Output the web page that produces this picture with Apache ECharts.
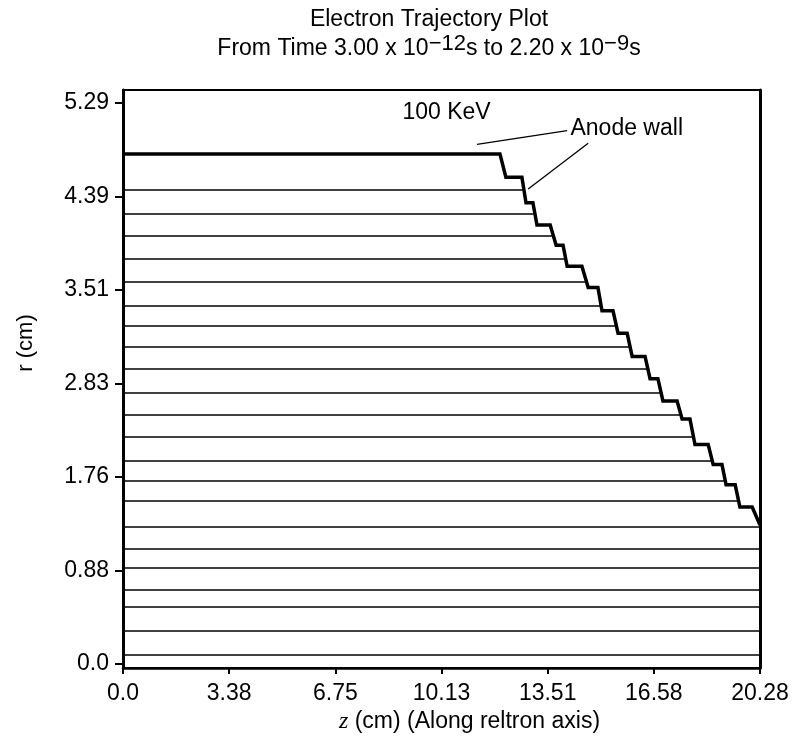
<!DOCTYPE html>
<html>
<head>
<meta charset="utf-8">
<script src="https://cdn.jsdelivr.net/npm/echarts@6/dist/echarts.min.js"></script>
<style>
html, body { margin: 0; background: #fff; }
#chart { width: 800px; height: 752px; }
</style>
</head>
<body>
<div id="chart"></div>
<script>
// tick labels as printed on the plot
const xTickLabels = ['0.0', '3.38', '6.75', '10.13', '13.51', '16.58', '20.28']
const yTickLabels = ['0.0', '0.88', '1.76', '2.83', '3.51', '4.39', '5.29']
const zStep = 3.38
const rStep = 5.29 / 6

// electron trajectories: radius and z where each one hits the wall
const trajR = [4.47, 4.25, 4.04, 3.82, 3.60, 3.38, 3.19, 2.99, 2.78, 2.56, 2.35,
    2.14, 1.92, 1.73, 1.54, 1.29, 1.09, 0.91, 0.70, 0.54, 0.31, 0.09]
const trajEnd = [12.77, 13.12, 13.69, 14.10, 14.74, 15.22, 15.70, 16.14, 16.72, 17.13, 17.73,
    18.15, 18.75, 19.17, 19.61, 20.28, 20.28, 20.28, 20.28, 20.28, 20.28, 20.28]

// anode wall outline
const wallZ = [0, 12.00, 12.19, 12.70, 12.83, 13.05, 13.18, 13.60, 13.79, 14.01, 14.14, 14.61,
    14.81, 15.12, 15.25, 15.60, 15.76, 16.05, 16.21, 16.62, 16.78, 17.03, 17.19, 17.64,
    17.80, 18.05, 18.21, 18.63, 18.79, 19.07, 19.20, 19.49, 19.64, 20.03, 20.28]
const wallR = [4.81, 4.81, 4.59, 4.59, 4.35, 4.35, 4.14, 4.14, 3.95, 3.95, 3.75, 3.75,
    3.55, 3.55, 3.33, 3.33, 3.12, 3.12, 2.90, 2.90, 2.69, 2.69, 2.48, 2.48,
    2.31, 2.31, 2.07, 2.07, 1.88, 1.88, 1.69, 1.69, 1.48, 1.48, 1.31]

// annotations
const noteNames = ['100 KeV', 'Anode wall']
const noteZ = [8.88, 14.23]
const noteR = [5.20, 5.05]
const leaderFrom = [[11.27, 4.90], [14.81, 4.91]]
const leaderTo = [[14.14, 5.03], [12.90, 4.48]]

const xTicks = xTickLabels.map((l, i) => +(i * zStep).toFixed(2))
const yTicks = yTickLabels.map((l, i) => +(i * rStep).toFixed(4))

const font = 'Liberation Sans'
const myChart = echarts.init(document.getElementById('chart'))

myChart.setOption({
    animation: false,
    backgroundColor: '#fff',
    title: {
        text: 'Electron Trajectory Plot\n{n|From Time 3.00 x 10}{s|\u221212}{n|s to 2.20 x 10}{s|\u22129}{n|s}',
        left: 429,
        top: 6,
        padding: 0,
        textAlign: 'center',
        textStyle: {
            fontFamily: font,
            fontSize: 23,
            fontWeight: 'normal',
            color: '#000',
            lineHeight: 27,
            rich: {
                n: { fontFamily: font, fontSize: 23, color: '#000', verticalAlign: 'bottom', lineHeight: 27 },
                s: { fontFamily: font, fontSize: 22, color: '#000', verticalAlign: 'top', lineHeight: 6 }
            }
        }
    },
    grid: {
        left: 123,
        right: 40,
        top: 90,
        bottom: 84,
        show: true,
        borderColor: '#000',
        borderWidth: 2
    },
    xAxis: {
        type: 'value',
        min: 0,
        max: 20.28,
        name: '{i|z} (cm) (Along reltron axis)',
        nameLocation: 'middle',
        nameGap: 42,
        nameTextStyle: {
            fontFamily: font,
            fontSize: 23,
            color: '#000',
            padding: [0, 0, 0, 56],
            rich: {
                i: { fontFamily: 'Liberation Serif', fontStyle: 'italic', fontSize: 24, color: '#000' }
            }
        },
        splitLine: { show: false },
        axisLine: { onZero: false, lineStyle: { color: '#000', width: 2.5 } },
        axisTick: { customValues: xTicks, length: 6, lineStyle: { color: '#000', width: 2 } },
        axisLabel: {
            customValues: xTicks,
            formatter: v => xTickLabels[Math.round(v / zStep)],
            fontFamily: font,
            fontSize: 23,
            color: '#000',
            margin: 14
        }
    },
    yAxis: [{
        type: 'value',
        min: -0.038,
        max: 5.413,
        name: 'r (cm)',
        nameLocation: 'middle',
        nameGap: 86,
        nameRotate: 90,
        nameTextStyle: {
            fontFamily: font,
            fontSize: 22,
            color: '#000',
            padding: [0, 0, 0, 72]
        },
        splitLine: { show: false },
        axisLine: { show: true, onZero: false, lineStyle: { color: '#000', width: 3 } },
        axisTick: { customValues: yTicks, length: 8, lineStyle: { color: '#000', width: 2 } },
        axisLabel: {
            customValues: yTicks,
            formatter: v => yTickLabels[Math.round(v / rStep)],
            fontFamily: font,
            fontSize: 23,
            color: '#000',
            margin: 14
        }
    }, {
        type: 'value',
        position: 'right',
        min: -0.038,
        max: 5.413,
        splitLine: { show: false },
        axisLine: { show: true, onZero: false, lineStyle: { color: '#000', width: 3 } },
        axisTick: { show: false },
        axisLabel: { show: false }
    }],
    series: [{
        name: 'trajectories',
        type: 'lines',
        coordinateSystem: 'cartesian2d',
        silent: true,
        lineStyle: { color: '#000', width: 1.5, opacity: 1 },
        data: trajR.map((r, i) => ({ coords: [[0, r], [trajEnd[i], r]] }))
    }, {
        name: 'wall',
        type: 'line',
        symbol: 'none',
        silent: true,
        lineStyle: { color: '#000', width: 3.5, join: 'miter' },
        data: wallZ.map((z, i) => [z, wallR[i]])
    }, {
        name: 'leaders',
        type: 'lines',
        coordinateSystem: 'cartesian2d',
        silent: true,
        lineStyle: { color: '#000', width: 1.3, opacity: 1 },
        data: leaderFrom.map((p, i) => ({ coords: [p, leaderTo[i]] }))
    }, {
        name: 'notes',
        type: 'scatter',
        symbolSize: 1,
        silent: true,
        itemStyle: { color: 'rgba(0,0,0,0)' },
        label: {
            show: true,
            position: 'right',
            distance: 0,
            formatter: p => p.name,
            fontFamily: font,
            fontSize: 23,
            color: '#000',
            opacity: 1
        },
        data: noteNames.map((n, i) => ({ name: n, value: [noteZ[i], noteR[i]] }))
    }]
})
</script>
</body>
</html>
